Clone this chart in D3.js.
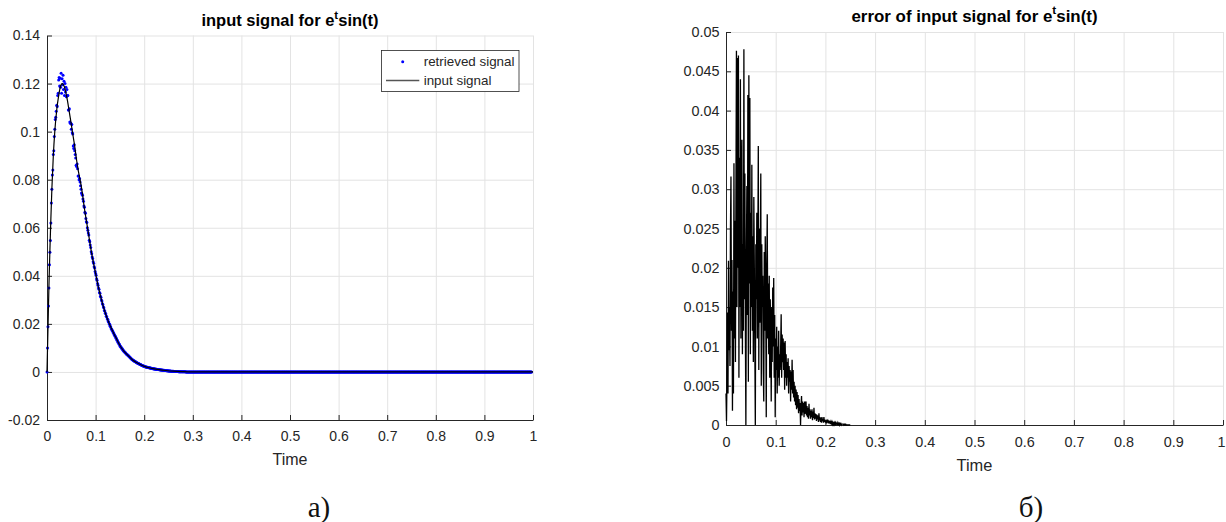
<!DOCTYPE html>
<html>
<head>
<meta charset="utf-8">
<script src="https://cdn.jsdelivr.net/npm/d3@7"></script>
<style>
  body { margin: 0; background: #fff; }
  svg { display: block; }
  text { font-family: "Liberation Sans", Arial, sans-serif; }
</style>
</head>
<body>
<svg id="fig" width="1226" height="522"></svg>
<script>
// Tick values (shared time axis for both panels)
const timeTicks = [0, 0.1, 0.2, 0.3, 0.4, 0.5, 0.6, 0.7, 0.8, 0.9, 1];
const signalTicks = [-0.02, 0, 0.02, 0.04, 0.06, 0.08, 0.1, 0.12, 0.14];
const errorTicks = [0, 0.005, 0.01, 0.015, 0.02, 0.025, 0.03, 0.035, 0.04, 0.045, 0.05];

// Retrieved signal, one sample every 0.001 s from t = 0 to t = 1
const retrievedStep = 0.001;
const retrievedSignal = [
  0,0.0100,0.0188,0.0274,0.0349,0.0446,0.0498,0.0547,0.0620,0.0703,
  0.0760,0.0820,0.0840,0.0905,0.0920,0.0980,0.1010,0.1050,0.1060,0.1085,
  0.1110,0.1105,0.1150,0.1160,0.1215,0.1225,0.1190,0.1222,0.1185,0.1243,
  0.1160,0.1220,0.1195,0.1235,0.1175,0.1210,0.1150,0.1200,0.1165,0.1185,
  0.1145,0.1175,0.1150,0.1150,0.1090,0.1090,0.1095,0.1040,0.1035,0.1035,
  0.1010,0.1030,0.0995,0.0990,0.0940,0.0930,0.0945,0.0920,0.0905,0.0890,
  0.0860,0.0855,0.0865,0.0845,0.0815,0.0815,0.0800,0.0805,0.0790,0.0775,
  0.0760,0.0745,0.0740,0.0735,0.0720,0.0710,0.0690,0.0685,0.0665,0.0660,
  0.0638,0.0625,0.0622,0.0600,0.0590,0.0578,0.0570,0.0548,0.0542,0.0528,
  0.0518,0.0500,0.0492,0.0478,0.0472,0.0458,0.0452,0.0438,0.0432,0.0418,
  0.0410,
  0.0402,0.0388,0.0382,0.0368,0.0361,0.0349,0.0344,0.0331,0.0327,0.0315,
  0.0311,0.0299,0.0295,0.0284,0.0281,0.0270,0.0267,0.0256,0.0254,0.0244,
  0.0242,0.0232,0.0230,0.0220,0.0219,0.0210,0.0208,0.0200,0.0198,0.0190,
  0.0188,0.0180,0.0179,0.0172,0.0171,0.0164,0.0163,0.0156,0.0155,0.0148,
  0.0147,0.0140,0.0139,0.0132,0.0131,0.0124,0.0123,0.0116,0.0115,0.0108,
  0.0108,0.0103,0.0102,0.0097,0.0096,0.0091,0.0090,0.0086,0.0085,0.0082,
  0.0081,0.0078,0.0076,0.0074,0.0072,0.0070,0.0068,0.0066,0.0064,0.0062,
  0.0060,0.0058,0.0056,0.0054,0.0052,0.0051,0.0049,0.0048,0.0046,0.0045,
  0.0043,0.0042,0.0041,0.0039,0.0038,0.0037,0.0036,0.0035,0.0034,0.0033,
  0.0032,0.0031,0.0030,0.0029,0.0028,0.0027,0.0026,0.0025,0.0025,0.0024,
  0.0023,0.0022,0.0022,0.0021,0.0020,0.0020,0.0019,0.0018,0.0018,0.0017,
  0.0017,0.0016,0.0016,0.0015,0.0015,0.0014,0.0014,0.0013,0.0013,0.0013,
  0.0012,0.0012,0.0012,0.0011,0.0011,0.0011,0.0010,0.0010,0.0010,0.0010,
  0.0009,0.0009,0.0009,0.0008,0.0008,0.0008,0.0008,0.0007,0.0007,0.0007,
  0.0007,0.0006,0.0006,0.0006,0.0006,0.0005,0.0005,0.0005,0.0005,0.0004,
  0.0004,0.0004,0.0004,0.0004,0.0003,0.0003,0.0003,0.0003,0.0003,0.0003,
  0.0002,0.0002,0.0002,0.0002,0.0002,0.0002,0.0002,0.0002,0.0002,0.0002,
  0.0001,0.0001,0.0001,0.0001,0.0001,0.0001,0.0001,0.0001,0.0001,0.0001,
  0.0001,0.0001,0.0001,0.0001,0.0001,0,0,0,0,0,
  0,0,0,0,0,0,0,0,0,0,
  0,0,0,0,0,0,0,0,0,0,0,0,0,0,0,0,0,0,0,0,0,0,0,0,0,0,0,0,0,0,0,0,0,0,0,0,0,0,0,0,0,0,0,0,0,0,0,0,0,0,
  0,0,0,0,0,0,0,0,0,0,0,0,0,0,0,0,0,0,0,0,0,0,0,0,0,0,0,0,0,0,0,0,0,0,0,0,0,0,0,0,0,0,0,0,0,0,0,0,0,0,
  0,0,0,0,0,0,0,0,0,0,0,0,0,0,0,0,0,0,0,0,0,0,0,0,0,0,0,0,0,0,0,0,0,0,0,0,0,0,0,0,0,0,0,0,0,0,0,0,0,0,
  0,0,0,0,0,0,0,0,0,0,0,0,0,0,0,0,0,0,0,0,0,0,0,0,0,0,0,0,0,0,0,0,0,0,0,0,0,0,0,0,0,0,0,0,0,0,0,0,0,0,
  0,0,0,0,0,0,0,0,0,0,0,0,0,0,0,0,0,0,0,0,0,0,0,0,0,0,0,0,0,0,0,0,0,0,0,0,0,0,0,0,0,0,0,0,0,0,0,0,0,0,
  0,0,0,0,0,0,0,0,0,0,0,0,0,0,0,0,0,0,0,0,0,0,0,0,0,0,0,0,0,0,0,0,0,0,0,0,0,0,0,0,0,0,0,0,0,0,0,0,0,0,
  0,0,0,0,0,0,0,0,0,0,0,0,0,0,0,0,0,0,0,0,0,0,0,0,0,0,0,0,0,0,0,0,0,0,0,0,0,0,0,0,0,0,0,0,0,0,0,0,0,0,
  0,0,0,0,0,0,0,0,0,0,0,0,0,0,0,0,0,0,0,0,0,0,0,0,0,0,0,0,0,0,0,0,0,0,0,0,0,0,0,0,0,0,0,0,0,0,0,0,0,0,
  0,0,0,0,0,0,0,0,0,0,0,0,0,0,0,0,0,0,0,0,0,0,0,0,0,0,0,0,0,0,0,0,0,0,0,0,0,0,0,0,0,0,0,0,0,0,0,0,0,0,
  0,0,0,0,0,0,0,0,0,0,0,0,0,0,0,0,0,0,0,0,0,0,0,0,0,0,0,0,0,0,0,0,0,0,0,0,0,0,0,0,0,0,0,0,0,0,0,0,0,0,
  0,0,0,0,0,0,0,0,0,0,0,0,0,0,0,0,0,0,0,0,0,0,0,0,0,0,0,0,0,0,0,0,0,0,0,0,0,0,0,0,0,0,0,0,0,0,0,0,0,0,
  0,0,0,0,0,0,0,0,0,0,0,0,0,0,0,0,0,0,0,0,0,0,0,0,0,0,0,0,0,0,0,0,0,0,0,0,0,0,0,0,0,0,0,0,0,0,0,0,0,0,
  0,0,0,0,0,0,0,0,0,0,0,0,0,0,0,0,0,0,0,0,0,0,0,0,0,0,0,0,0,0,0,0,0,0,0,0,0,0,0,0,0,0,0,0,0,0,0,0,0,0,
  0,0,0,0,0,0,0,0,0,0,0,0,0,0,0,0,0,0,0,0,0,0,0,0,0,0,0,0,0,0,0,0,0,0,0,0,0,0,0,0,0,0,0,0,0,0,0
];

// Input signal (smooth reference curve)
const inputTime = [
  0,0.002,0.004,0.006,0.008,0.010,0.013,0.016,0.020,0.024,0.028,0.031,0.034,0.038,0.042,0.046,
  0.050,0.053,0.057,0.061,0.065,0.069,0.073,0.077,0.081,0.085,0.090,0.095,0.100,0.106,0.112,
  0.118,0.124,0.130,0.136,0.142,0.150,0.158,0.166,0.175,0.185,0.195,0.205,0.215,0.230,0.245,
  0.260,0.280,0.300,1
];
const inputSignal = [
  0,0.018,0.036,0.051,0.064,0.076,0.090,0.100,0.109,0.115,0.119,0.120,0.1195,0.117,0.113,0.108,
  0.103,0.099,0.094,0.088,0.083,0.079,0.074,0.068,0.063,0.058,0.0515,0.046,0.041,0.0351,0.0301,
  0.0258,0.0222,0.0192,0.0166,0.0142,0.0110,0.0087,0.0070,0.0052,0.0038,0.0028,0.0020,0.0015,0.0010,0.0006,
  0.0003,0.0001,0,0
];

// Error of the input signal, one sample every 0.001 s from t = 0 to t = 0.25 (zero afterwards)
const errorStep = 0.001;
const inputError = [
  0.0040,0.0005,0.0060,0.0143,0.0040,0.0209,0.0095,0.0150,0.0075,0.0250,
  0.0316,0.0120,0.0210,0.0018,0.0170,0.0040,0.0333,0.0110,0.0260,0.0080,
  0.0300,0.0476,0.0150,0.0467,0.0200,0.0470,0.0060,0.0340,0.0150,0.0440,
  0.0110,0.0280,0.0363,0.0090,0.0230,0.0120,0.0478,0.0160,0.0320,0.0120,
  0.0000,0.0210,0.0304,0.0140,0.0420,0.0055,0.0445,0.0180,0.0416,0.0090,
  0.0270,0.0150,0.0331,0.0120,0.0240,0.0080,0.0290,0.0200,0.0100,0.0000,
  0.0230,0.0160,0.0270,0.0110,0.0220,0.0355,0.0070,0.0250,0.0130,0.0210,
  0.0320,0.0050,0.0230,0.0150,0.0190,0.0070,0.0030,0.0220,0.0120,0.0240,
  0.0160,0.0010,0.0200,0.0268,0.0110,0.0180,0.0090,0.0190,0.0060,0.0160,
  0.0120,0.0030,0.0150,0.0080,0.0175,0.0100,0.0187,0.0060,0.0140,0.0010,
  0.0110,0.0070,0.0125,0.0040,0.0100,0.0060,0.0120,0.0050,0.0090,0.0070,
  0.0100,0.0141,0.0060,0.0115,0.0080,0.0110,0.0070,0.0105,0.0045,0.0107,
  0.0060,0.0090,0.0050,0.0080,0.0060,0.0085,0.0040,0.0075,0.0055,0.0070,
  0.0030,0.0068,0.0045,0.0083,0.0040,0.0070,0.0035,0.0055,0.0030,0.0050,
  0.0025,0.0045,0.0020,0.0042,0.0022,0.0038,0.0015,0.0033,0.0018,0.0028,
  0.0000,0.0025,0.0037,0.0012,0.0030,0.0016,0.0028,0.0010,0.0030,0.0014,
  0.0026,0.0030,0.0012,0.0024,0.0010,0.0022,0.0008,0.0027,0.0012,0.0020,
  0.0008,0.0018,0.0010,0.0020,0.0006,0.0017,0.0009,0.0022,0.0007,0.0015,
  0.0008,0.0014,0.0005,0.0013,0.0007,0.0012,0.0004,0.0015,0.0006,0.0010,
  0.0004,0.0009,0.0003,0.0010,0.0005,0.0008,0.0003,0.0010,0.0004,0.0007,
  0.0003,0.0006,0.0002,0.0007,0.0003,0.0005,0.0002,0.0006,0.0002,0.0005,
  0.0001,0.0004,0.0002,0.0004,0.0001,0.0003,0.0001,0.0004,0.0001,0.0003,
  0.0001,0.0003,0.0001,0.0002,0.0001,0.0003,0.0001,0.0002,0.0000,0.0002,
  0.0001,0.0002,0.0000,0.0001,0.0001,0.0001,0.0001,0,0.0001,0,
  0,0.0001,0,0,0,0,0,0,0,0,0
];

const svg = d3.select("#fig");
const ink = "#262626";
const tickFormat = d => String(+d.toFixed(4));

// Draws grid + inward-tick axes, returns the scales
function drawPanel(cfg) {
  const x = d3.scaleLinear().domain([0, 1]).range([cfg.left, cfg.right]);
  const y = d3.scaleLinear().domain(cfg.yDomain).range([cfg.bottom, cfg.top]);
  const g = svg.append("g");

  // light grid
  g.append("g").selectAll("line").data(timeTicks.slice(1)).join("line")
    .attr("x1", d => x(d) + 0.5).attr("x2", d => x(d) + 0.5)
    .attr("y1", cfg.top).attr("y2", cfg.bottom)
    .attr("stroke", "#e3e3e3").attr("stroke-width", 1);
  g.append("g").selectAll("line").data(cfg.yTicks.slice(1)).join("line")
    .attr("x1", cfg.left).attr("x2", cfg.right)
    .attr("y1", d => y(d) + 0.5).attr("y2", d => y(d) + 0.5)
    .attr("stroke", "#e3e3e3").attr("stroke-width", 1);

  const xAxis = g.append("g")
    .attr("transform", `translate(0,${cfg.bottom})`)
    .call(d3.axisBottom(x).tickValues(timeTicks).tickFormat(tickFormat)
      .tickSizeInner(-5).tickSizeOuter(0).tickPadding(cfg.xPad));
  const yAxis = g.append("g")
    .attr("transform", `translate(${cfg.left},0)`)
    .call(d3.axisLeft(y).tickValues(cfg.yTicks).tickFormat(tickFormat)
      .tickSizeInner(-5).tickSizeOuter(0).tickPadding(cfg.yPad));

  [xAxis, yAxis].forEach(a => {
    a.attr("font-family", null).attr("font-size", null);
    a.selectAll("path, line").attr("stroke", ink);
    a.selectAll("text").attr("fill", ink).style("font-size", cfg.tickSize + "px");
  });
  // keep the last time label inside the window
  xAxis.selectAll(".tick text").filter(d => d === 1).attr("dx", cfg.lastDx || 0);

  // title with superscript
  const title = svg.append("text")
    .attr("x", (cfg.left + cfg.right) / 2).attr("y", cfg.titleY)
    .attr("text-anchor", "middle")
    .style("font-size", cfg.titleSize + "px").style("font-weight", "bold").attr("fill", "#000");
  title.append("tspan").text(cfg.title);
  title.append("tspan").attr("dy", -cfg.titleSize * 0.42).style("font-size", (cfg.titleSize * 0.7) + "px").text("t");
  title.append("tspan").attr("dy", cfg.titleSize * 0.42).text("sin(t)");

  svg.append("text")
    .attr("x", (cfg.left + cfg.right) / 2).attr("y", cfg.labelY)
    .attr("text-anchor", "middle").attr("fill", ink)
    .style("font-size", cfg.labelSize + "px").text("Time");

  svg.append("text")
    .attr("x", cfg.captionX).attr("y", 517)
    .attr("text-anchor", "middle").attr("fill", "#111")
    .style("font-family", "'Liberation Serif', 'DejaVu Serif', serif")
    .style("font-size", "29px").text(cfg.caption);

  const clipId = "clip" + cfg.left;
  svg.append("clipPath").attr("id", clipId).append("rect")
    .attr("x", cfg.left - 3).attr("y", cfg.top - 3)
    .attr("width", cfg.right - cfg.left + 5).attr("height", cfg.bottom - cfg.top + 6);
  const plot = svg.append("g").attr("clip-path", `url(#${clipId})`);
  return { x, y, plot };
}

// ---- Left panel: input signal ----
const left = drawPanel({
  left: 47, right: 533, top: 35.5, bottom: 420,
  yDomain: [-0.02, 0.14], yTicks: signalTicks,
  xPad: 11, yPad: 7, tickSize: 14,
  title: "input signal for e", titleY: 25.5, titleSize: 16.5,
  labelY: 464.5, labelSize: 16,
  caption: "а)", captionX: 319
});

left.plot.append("g").selectAll("circle")
  .data(retrievedSignal)
  .join("circle")
  .attr("cx", (d, i) => left.x(i * retrievedStep))
  .attr("cy", d => left.y(d))
  .attr("r", 1.5)
  .attr("fill", "#0000ff");

left.plot.append("path")
  .datum(inputTime.map((t, i) => [t, inputSignal[i]]))
  .attr("fill", "none").attr("stroke", "#000").attr("stroke-width", 1.2)
  .attr("d", d3.line().x(d => left.x(d[0])).y(d => left.y(d[1])).curve(d3.curveMonotoneX));

// legend
const legend = svg.append("g");
legend.append("rect")
  .attr("x", 381.5).attr("y", 50.5).attr("width", 137.5).attr("height", 41)
  .attr("fill", "#fff").attr("stroke", ink).attr("stroke-width", 0.8);
legend.append("circle").attr("cx", 402.7).attr("cy", 61.7).attr("r", 1.5).attr("fill", "#0000ff");
legend.append("line").attr("x1", 386).attr("x2", 419.3).attr("y1", 80.5).attr("y2", 80.5)
  .attr("stroke", "#555").attr("stroke-width", 1.3);
legend.append("text").attr("x", 423.7).attr("y", 66).attr("fill", ink)
  .style("font-size", "13.4px").text("retrieved signal");
legend.append("text").attr("x", 423.7).attr("y", 85).attr("fill", ink)
  .style("font-size", "13.4px").text("input signal");

// ---- Right panel: error of input signal ----
const right = drawPanel({
  left: 726, right: 1223, top: 32, bottom: 425,
  yDomain: [0, 0.05], yTicks: errorTicks,
  xPad: 12, yPad: 6.5, tickSize: 14.4,
  title: "error of input signal for e", titleY: 21.5, titleSize: 16.9,
  labelY: 470.5, labelSize: 16.4,
  caption: "б)", captionX: 1031, lastDx: -2
});

right.plot.append("path")
  .datum(inputError)
  .attr("fill", "none").attr("stroke", "#000").attr("stroke-width", 1.3)
  .attr("d", d3.line().x((d, i) => right.x(i * errorStep)).y(d => right.y(d)));
</script>
</body>
</html>
